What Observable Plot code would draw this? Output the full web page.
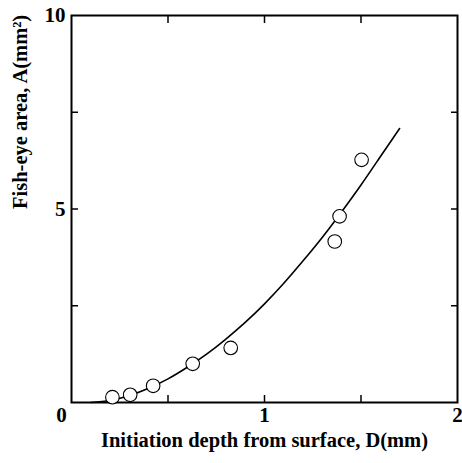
<!DOCTYPE html>
<html>
<head>
<meta charset="utf-8">
<script src="https://cdn.jsdelivr.net/npm/d3@7"></script>
<script src="https://cdn.jsdelivr.net/npm/@observablehq/plot@0.6"></script>
<style>
  html, body { margin: 0; padding: 0; background: #fff; }
  svg { display: block; }
</style>
</head>
<body>
<div id="chart"></div>
<script>
// Measured points: initiation depth D (mm) and fish-eye area A (mm^2)
const depthD = [0.212, 0.304, 0.423, 0.628, 0.825, 1.364, 1.389, 1.503];
const areaA  = [0.137, 0.199, 0.432, 1.00, 1.41, 4.16, 4.81, 6.27];

// Fitted curve
const curveD = [0.10, 0.20, 0.30, 0.40, 0.50, 0.60, 0.70, 0.80, 0.90, 1.00, 1.10, 1.20, 1.30, 1.40, 1.50, 1.60, 1.70];
const curveA = [0.00, 0.05, 0.18, 0.37, 0.61, 0.91, 1.25, 1.64, 2.07, 2.55, 3.08, 3.66, 4.27, 4.93, 5.62, 6.35, 7.08];

const xTicks = [0.5, 1, 1.5];
const yTicks = [2.5, 5, 7.5];
const xLabels = [1, 2];
const yLabels = [5, 10];
const xTitle = "Initiation depth from surface, D(mm)";
const yTitle = "Fish-eye area, A(mm\u00B2)";

const points = depthD.map((d, i) => ({D: d, A: areaA[i]}));
const curve = curveD.map((d, i) => ({D: d, A: curveA[i]}));

const font = "'Liberation Serif', 'Times New Roman', serif";
const tl = 7;
const fmt = d => String(d);

const chart = Plot.plot({
  width: 462,
  height: 463,
  marginLeft: 71,
  marginRight: 5,
  marginTop: 15,
  marginBottom: 61,
  style: {fontFamily: font, fontWeight: "bold", fontSize: "21px", color: "#000", background: "#fff"},
  x: {domain: [0, 2]},
  y: {domain: [0, 10]},
  marks: [
    // inward tick marks on all four sides
    Plot.axisX(xTicks, {anchor: "bottom", tickSize: tl, dy: -tl, tickFormat: () => "", label: null, strokeWidth: 1.5}),
    Plot.axisX(xTicks, {anchor: "top", tickSize: tl, dy: tl, tickFormat: () => "", label: null, strokeWidth: 1.5}),
    Plot.axisY(yTicks, {anchor: "left", tickSize: tl, dx: tl, tickFormat: () => "", label: null, strokeWidth: 1.5}),
    Plot.axisY(yTicks, {anchor: "right", tickSize: tl, dx: -tl, tickFormat: () => "", label: null, strokeWidth: 1.5}),
    // tick labels
    Plot.axisX(xLabels, {anchor: "bottom", tickSize: 0, tickPadding: 5, tickFormat: fmt, label: null, fontSize: 21, fontWeight: "bold"}),
    Plot.axisX([0], {anchor: "bottom", tickSize: 0, tickPadding: 5, dx: -10, tickFormat: fmt, label: null, fontSize: 21, fontWeight: "bold"}),
    Plot.axisY(yLabels, {anchor: "left", tickSize: 0, tickPadding: 6, tickFormat: fmt, label: null, fontSize: 21, fontWeight: "bold"}),
    Plot.frame({stroke: "#000", strokeWidth: 2}),
    Plot.line(curve, {x: "D", y: "A", curve: "natural", stroke: "#000", strokeWidth: 1.6}),
    Plot.dot(points, {x: "D", y: "A", r: 6.8, fill: "#fff", stroke: "#000", strokeWidth: 1.1}),
    Plot.text([xTitle], {frameAnchor: "bottom", dy: 44, fontSize: 20.5, fontWeight: "bold", fill: "#000"}),
    Plot.text([yTitle], {frameAnchor: "left", dx: -51, dy: 0, rotate: -90, fontSize: 20.5, fontWeight: "bold", fill: "#000"})
  ]
});
document.getElementById("chart").appendChild(chart);
</script>
</body>
</html>
